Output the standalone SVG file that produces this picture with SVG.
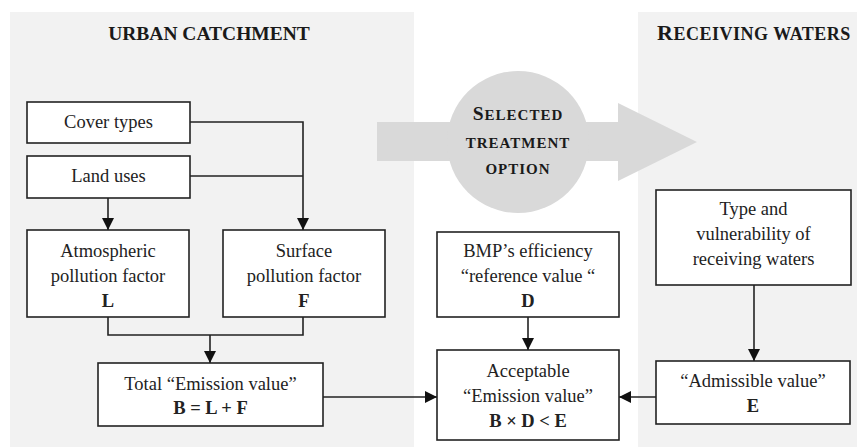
<svg xmlns="http://www.w3.org/2000/svg" width="857" height="447" viewBox="0 0 857 447">
<style>
.panel{fill:#f2f2f2}
.box{fill:#fff;stroke:#222;stroke-width:1.6}
.t{font-family:"Liberation Serif","Times New Roman",serif;font-size:18.5px;fill:#222;text-anchor:middle}
.b{font-weight:bold}
.h{font-family:"Liberation Serif","Times New Roman",serif;font-weight:bold;fill:#1a1a1a}
.c{fill:none;stroke:#222;stroke-width:1.6}
.big{fill:#d9d9d9}
</style>
<defs>
<marker id="ah" viewBox="0 0 12 12" refX="12" refY="6" markerWidth="12" markerHeight="12" markerUnits="userSpaceOnUse" orient="auto">
<path d="M0,0 L12,6 L0,12 Z" fill="#111"/>
</marker>
</defs>
<rect width="857" height="447" fill="#fff"/>
<rect class="panel" x="10" y="12" width="404" height="435"/>
<rect class="panel" x="638" y="12" width="219" height="435"/>
<g id="big-arrow">
<path class="big" d="M377,122 H618 V103 L697,142 L618,181 V161 H377 Z"/>
<circle class="big" cx="518" cy="142" r="71"/>
<text class="h" x="518" y="120" text-anchor="middle" letter-spacing="1"><tspan font-size="19.5">S</tspan><tspan font-size="15">ELECTED</tspan></text>
<text class="h" x="518" y="148" text-anchor="middle" font-size="15" letter-spacing="1">TREATMENT</text>
<text class="h" x="518" y="174" text-anchor="middle" font-size="15" letter-spacing="1">OPTION</text>
</g>
<g id="title-urban"><text class="h" x="209" y="40" text-anchor="middle" font-size="19.5">URBAN CATCHMENT</text></g>
<g id="title-receiving"><text class="h" x="754" y="40" text-anchor="middle" letter-spacing="0.5"><tspan font-size="22">R</tspan><tspan font-size="18">ECEIVING WATERS</tspan></text></g>
<g id="connectors">
<path class="c" d="M190,122 H303 V230" marker-end="url(#ah)"/>
<path class="c" d="M190,176 H303"/>
<path class="c" d="M108,198 V230" marker-end="url(#ah)"/>
<path class="c" d="M108,317 V335 H303 V317"/>
<path class="c" d="M210,335 V363" marker-end="url(#ah)"/>
<path class="c" d="M323,397 H437" marker-end="url(#ah)"/>
<path class="c" d="M528,317 V350" marker-end="url(#ah)"/>
<path class="c" d="M754,285 V361" marker-end="url(#ah)"/>
<path class="c" d="M656,397 H619" marker-end="url(#ah)"/>
</g>
<g id="cover-types">
<rect class="box" x="27" y="102" width="163" height="41"/>
<text class="t" x="108.5" y="128">Cover types</text>
</g>
<g id="land-uses">
<rect class="box" x="27" y="156" width="163" height="42"/>
<text class="t" x="108.5" y="182">Land uses</text>
</g>
<g id="atmospheric">
<rect class="box" x="27" y="230" width="162" height="87"/>
<text class="t" x="108" y="257">Atmospheric</text>
<text class="t" x="108" y="282">pollution factor</text>
<text class="t b" x="108" y="307">L</text>
</g>
<g id="surface">
<rect class="box" x="223" y="230" width="162" height="87"/>
<text class="t" x="304" y="257">Surface</text>
<text class="t" x="304" y="282">pollution factor</text>
<text class="t b" x="304" y="307">F</text>
</g>
<g id="total">
<rect class="box" x="98" y="363" width="225" height="63"/>
<text class="t" x="210.5" y="390">Total “Emission value”</text>
<text class="t b" x="210.5" y="414">B = L + F</text>
</g>
<g id="bmp">
<rect class="box" x="437" y="232" width="182" height="85"/>
<text class="t" x="528" y="257">BMP’s efficiency</text>
<text class="t" x="528" y="282">“reference value “</text>
<text class="t b" x="528" y="307">D</text>
</g>
<g id="acceptable">
<rect class="box" x="437" y="350" width="182" height="90"/>
<text class="t" x="528" y="377">Acceptable</text>
<text class="t" x="528" y="402">“Emission value”</text>
<text class="t b" x="528" y="427">B × D &lt; E</text>
</g>
<g id="type-vulnerability">
<rect class="box" x="656" y="190" width="195" height="95"/>
<text class="t" x="753.5" y="215">Type and</text>
<text class="t" x="753.5" y="240">vulnerability of</text>
<text class="t" x="753.5" y="265">receiving waters</text>
</g>
<g id="admissible">
<rect class="box" x="656" y="361" width="194" height="63"/>
<text class="t" x="753" y="387">“Admissible value”</text>
<text class="t b" x="753" y="412">E</text>
</g>
</svg>
